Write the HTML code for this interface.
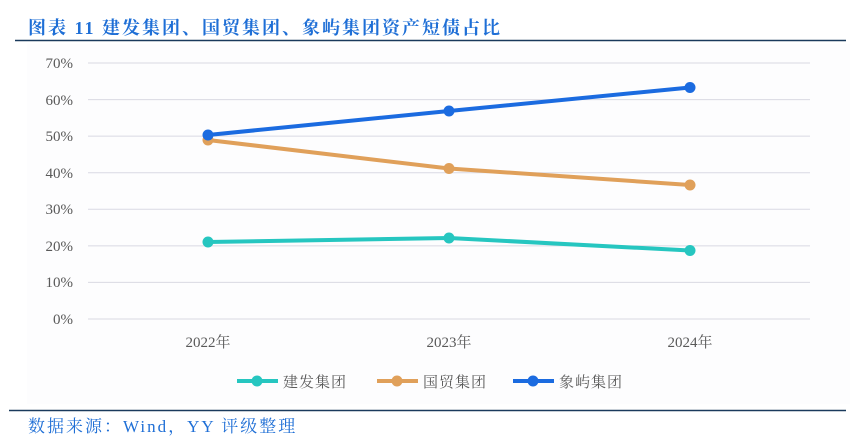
<!DOCTYPE html>
<html><head><meta charset="utf-8"><style>
body{margin:0;background:#fff;width:857px;height:445px;overflow:hidden}
svg{display:block}
</style></head><body>
<svg width="857" height="445" xmlns="http://www.w3.org/2000/svg" font-family="Liberation Serif, Noto Serif CJK SC, serif">
<rect x="27" y="44" width="823" height="360" fill="#fdfdfe"/>
<text x="28" y="34" font-size="18" font-weight="bold" fill="#1f6fd6" letter-spacing="2" font-family="Liberation Serif, Noto Serif CJK SC, serif">图表 11 建发集团、国贸集团、象屿集团资产短债占比</text>
<line x1="15" y1="40.5" x2="846" y2="40.5" stroke="#1a3a5c" stroke-width="1.5"/>
<g stroke="#d9d9e3" stroke-width="1">
<line x1="88" y1="63" x2="810" y2="63"/><line x1="88" y1="99.6" x2="810" y2="99.6"/>
<line x1="88" y1="136.1" x2="810" y2="136.1"/><line x1="88" y1="172.7" x2="810" y2="172.7"/>
<line x1="88" y1="209.3" x2="810" y2="209.3"/><line x1="88" y1="245.9" x2="810" y2="245.9"/>
<line x1="88" y1="282.4" x2="810" y2="282.4"/><line x1="88" y1="319" x2="810" y2="319"/>
</g>
<g font-size="15" fill="#595959" text-anchor="end">
<text x="73" y="68">70%</text><text x="73" y="105">60%</text><text x="73" y="141">50%</text>
<text x="73" y="178">40%</text><text x="73" y="214">30%</text><text x="73" y="251">20%</text>
<text x="73" y="287">10%</text><text x="73" y="324">0%</text>
</g>
<g font-size="15" fill="#595959" text-anchor="middle">
<text x="208" y="347">2022年</text><text x="449" y="347">2023年</text><text x="690" y="347">2024年</text>
</g>
<g stroke-width="4" fill="none" stroke-linejoin="round">
<polyline points="208,242 449,238 690,250.5" stroke="#26c6c0"/>
<polyline points="208,140 449,168.5 690,185" stroke="#e0a05a"/>
<polyline points="208,135 449,111 690,87.5" stroke="#1b6be0"/>
</g>
<g fill="#26c6c0"><circle cx="208" cy="242" r="5.5"/><circle cx="449" cy="238" r="5.5"/><circle cx="690" cy="250.5" r="5.5"/></g>
<g fill="#e0a05a"><circle cx="208" cy="140" r="5.5"/><circle cx="449" cy="168.5" r="5.5"/><circle cx="690" cy="185" r="5.5"/></g>
<g fill="#1b6be0"><circle cx="208" cy="135" r="5.5"/><circle cx="449" cy="111" r="5.5"/><circle cx="690" cy="87.5" r="5.5"/></g>
<g font-size="15" fill="#595959" letter-spacing="1">
<line x1="237" y1="381" x2="278" y2="381" stroke="#26c6c0" stroke-width="4"/><circle cx="257" cy="381" r="5.5" fill="#26c6c0"/>
<text x="283" y="387">建发集团</text>
<line x1="377" y1="381" x2="418" y2="381" stroke="#e0a05a" stroke-width="4"/><circle cx="397" cy="381" r="5.5" fill="#e0a05a"/>
<text x="423" y="387">国贸集团</text>
<line x1="513" y1="381" x2="554" y2="381" stroke="#1b6be0" stroke-width="4"/><circle cx="533" cy="381" r="5.5" fill="#1b6be0"/>
<text x="559" y="387">象屿集团</text>
</g>
<line x1="9" y1="410.5" x2="846" y2="410.5" stroke="#1a3a5c" stroke-width="1.5"/>
<text x="28" y="432" font-size="17" fill="#1f6fd6" letter-spacing="2">数据来源：Wind，YY 评级整理</text>
</svg>
</body></html>
